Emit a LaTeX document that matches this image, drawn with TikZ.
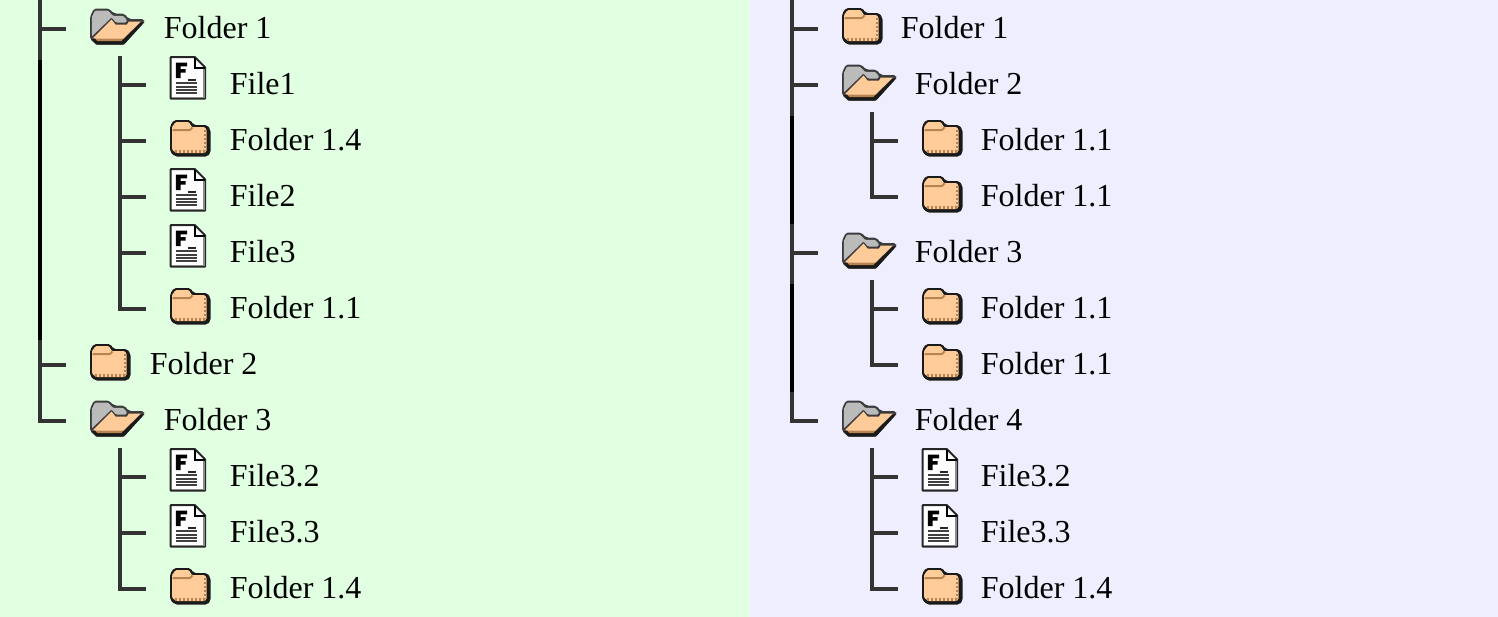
\documentclass[tikz,border=0pt]{standalone}
\usepackage{fontspec}
\setmainfont{Liberation Serif}
\definecolor{panelL}{HTML}{E1FFE1}
\definecolor{panelR}{HTML}{EEEEFF}
\definecolor{treeline}{HTML}{333333}
\definecolor{folderfill}{HTML}{FFCC99}
\definecolor{folderedge}{HTML}{1A1A1A}
\definecolor{foldertab}{HTML}{B98350}
\definecolor{foldergrey}{HTML}{BBBBBB}
\definecolor{greyedge}{HTML}{3C3C3C}
\tikzset{
  treestem/.style={draw=treeline,line width=2pt,line join=miter},
  treeblack/.style={draw=black,line width=2pt},
  rowlabel/.style={anchor=base west,inner sep=0pt,font=\fontsize{16}{18}\selectfont,text=black},
  pics/closedfolder/.style={code={
    \fill[folderedge,rounded corners=1pt] (0,6) -- (4,0) -- (20.5,0) -- (23.5,5) -- (37,5) -- (40.5,9.5) -- (40.5,33) -- (37.5,36.5) -- (5,36.5) -- (0,31.5) -- cycle;
    \fill[folderfill,rounded corners=.5pt] (2,7) -- (5.5,2.2) -- (19,2.2) -- (22,7.2) -- (35,7.2) -- (36.5,10) -- (36.5,30.5) -- (35,33) -- (6,33) -- (2,29.5) -- cycle;
    \draw[foldertab,line width=1pt] (2.5,10) -- (20,10) -- (22.5,7.5);
    \draw[foldertab,line width=1.2pt,dash pattern=on 1pt off 1pt] (35.5,10) -- (35.5,31);
    \draw[foldertab,line width=1.2pt,dash pattern=on 1pt off 1pt] (5,31.5) -- (35,31.5);
  }},
  pics/openfolder/.style={code={
    \fill[greyedge,rounded corners=1pt] (0,8.5) -- (4,.5) -- (19,.5) -- (24,5.5) -- (34,5.5) -- (39,11) -- (54,11) -- (54.5,14) -- (34,36.5) -- (6,36.5) -- (0,31) -- cycle;
    \fill[folderedge] (2,31) -- (34,31) -- (50,15) -- (54.5,14) -- (34,36.5) -- (6,36.5) -- cycle;
    \fill[foldergrey,rounded corners=.5pt] (1.8,9) -- (5,2.6) -- (18,2.6) -- (23,7.8) -- (33,7.8) -- (37,12) -- (36,14.5) -- (26,14.5) -- (21.5,9.5) -- (1.8,28.5) -- cycle;
    \fill[folderfill] (3,30) -- (21.5,11.5) -- (25.5,16.5) -- (37,16.5) -- (38.8,13.5) -- (51,13.5) -- (33,31) -- (7,31) -- cycle;
    \fill[foldertab] (5,30.6) -- (33.2,30.6) -- (31.5,33) -- (7.5,33) -- cycle;
  }},
  pics/docfile/.style={code={
    \fill[white] (.7,.7) -- (25,.7) -- (35,10.7) -- (35,42) -- (.7,42) -- cycle;
    \draw[black!85,line width=1pt,line join=round] (.7,.7) -- (25,.7) -- (35,10.7) -- (35,42) -- (.7,42) -- cycle;
    \draw[black!45,line width=.6pt] (2.2,41) -- (34,41) (34,12) -- (34,41);
    \draw[black,line width=1.2pt] (25,1) -- (25,11.5) -- (35,11.5);
    \fill[black] (5.8,6) -- (17,6) -- (17,9.8) -- (10.5,9.8) -- (10.5,12.5) -- (15.5,12.5) -- (15.5,16) -- (10.5,16) -- (10.5,21.5) -- (5.8,21.5) -- cycle;
    \draw[black!85,line width=1pt] (18,23.5) -- (25.5,23.5);
    \foreach \ly in {26.7,30,33.3,36.6}{\draw[black!75,line width=1pt] (6,\ly) -- (27,\ly);}
  }}
}
% \treeitem{id}{kind}{icon x}{row y}{label x offset}{label}
\newcommand{\treeitem}[6]{%
  \coordinate (#1-row) at (#3,#4);
  \coordinate (#1-end) at ([xshift=-12pt]#1-row);
  \ifnum\pdfstrcmp{#2}{docfile}=0
    \pic at (#3,#4-28.5) {#2};
  \else
    \pic at (#3,#4-21) {#2};
  \fi
  \node[rowlabel] (#1) at (#3+#5-.5,#4+9) {#6};
}
\begin{document}
\begin{tikzpicture}[x=.5pt,y=-.5pt]
\useasboundingbox (0,0) rectangle (1498,616);
\fill[panelL] (-2,-2) rectangle (750,620);
\fill[panelR] (750,-2) rectangle (1500,620);

% ---- left panel ----
\coordinate (LT0) at (40,0); \coordinate (LTa) at (40,60);
\coordinate (LTb) at (40,340); \coordinate (LTc) at (40,423);
\draw[treestem] (LT0) -- (LTa); \draw[treeblack] (LTa) -- (LTb); \draw[treestem] (LTb) -- (LTc);
\coordinate (LA0) at (120,56); \coordinate (LAe) at (120,311);
\draw[treestem] (LA0) -- (LAe);
\coordinate (LB0) at (120,448); \coordinate (LBe) at (120,591);
\draw[treestem] (LB0) -- (LBe);

\treeitem{l1}{openfolder}{90}{29}{74}{Folder 1}
\treeitem{l11}{docfile}{170}{85}{60}{File1}
\treeitem{l12}{closedfolder}{170}{141}{60}{Folder 1.4}
\treeitem{l13}{docfile}{170}{197}{60}{File2}
\treeitem{l14}{docfile}{170}{253}{60}{File3}
\treeitem{l15}{closedfolder}{170}{309}{60}{Folder 1.1}
\treeitem{l2}{closedfolder}{90}{365}{60}{Folder 2}
\treeitem{l3}{openfolder}{90}{421}{74}{Folder 3}
\treeitem{l31}{docfile}{170}{477}{60}{File3.2}
\treeitem{l32}{docfile}{170}{533}{60}{File3.3}
\treeitem{l33}{closedfolder}{170}{589}{60}{Folder 1.4}

\foreach \i in {l1,l2,l3}{\draw[treestem] (LT0 |- \i-row) -- (\i-end);}
\foreach \i in {l11,l12,l13,l14,l15}{\draw[treestem] (LA0 |- \i-row) -- (\i-end);}
\foreach \i in {l31,l32,l33}{\draw[treestem] (LB0 |- \i-row) -- (\i-end);}

% ---- right panel ----
\coordinate (RT0) at (792,0); \coordinate (RTa) at (792,116);
\coordinate (RTb) at (792,224); \coordinate (RTc) at (792,284);
\coordinate (RTd) at (792,392); \coordinate (RTe) at (792,423);
\draw[treestem] (RT0) -- (RTa); \draw[treeblack] (RTa) -- (RTb);
\draw[treestem] (RTb) -- (RTc); \draw[treeblack] (RTc) -- (RTd);
\draw[treestem] (RTd) -- (RTe);
\coordinate (RA0) at (872,112); \coordinate (RAe) at (872,199);
\draw[treestem] (RA0) -- (RAe);
\coordinate (RB0) at (872,280); \coordinate (RBe) at (872,367);
\draw[treestem] (RB0) -- (RBe);
\coordinate (RC0) at (872,448); \coordinate (RCe) at (872,591);
\draw[treestem] (RC0) -- (RCe);

\treeitem{r1}{closedfolder}{842}{29}{59}{Folder 1}
\treeitem{r2}{openfolder}{842}{85}{73}{Folder 2}
\treeitem{r21}{closedfolder}{922}{141}{59}{Folder 1.1}
\treeitem{r22}{closedfolder}{922}{197}{59}{Folder 1.1}
\treeitem{r3}{openfolder}{842}{253}{73}{Folder 3}
\treeitem{r31}{closedfolder}{922}{309}{59}{Folder 1.1}
\treeitem{r32}{closedfolder}{922}{365}{59}{Folder 1.1}
\treeitem{r4}{openfolder}{842}{421}{73}{Folder 4}
\treeitem{r41}{docfile}{922}{477}{59}{File3.2}
\treeitem{r42}{docfile}{922}{533}{59}{File3.3}
\treeitem{r43}{closedfolder}{922}{589}{59}{Folder 1.4}

\foreach \i in {r1,r2,r3,r4}{\draw[treestem] (RT0 |- \i-row) -- (\i-end);}
\foreach \i in {r21,r22}{\draw[treestem] (RA0 |- \i-row) -- (\i-end);}
\foreach \i in {r31,r32}{\draw[treestem] (RB0 |- \i-row) -- (\i-end);}
\foreach \i in {r41,r42,r43}{\draw[treestem] (RC0 |- \i-row) -- (\i-end);}
\end{tikzpicture}
\end{document}
